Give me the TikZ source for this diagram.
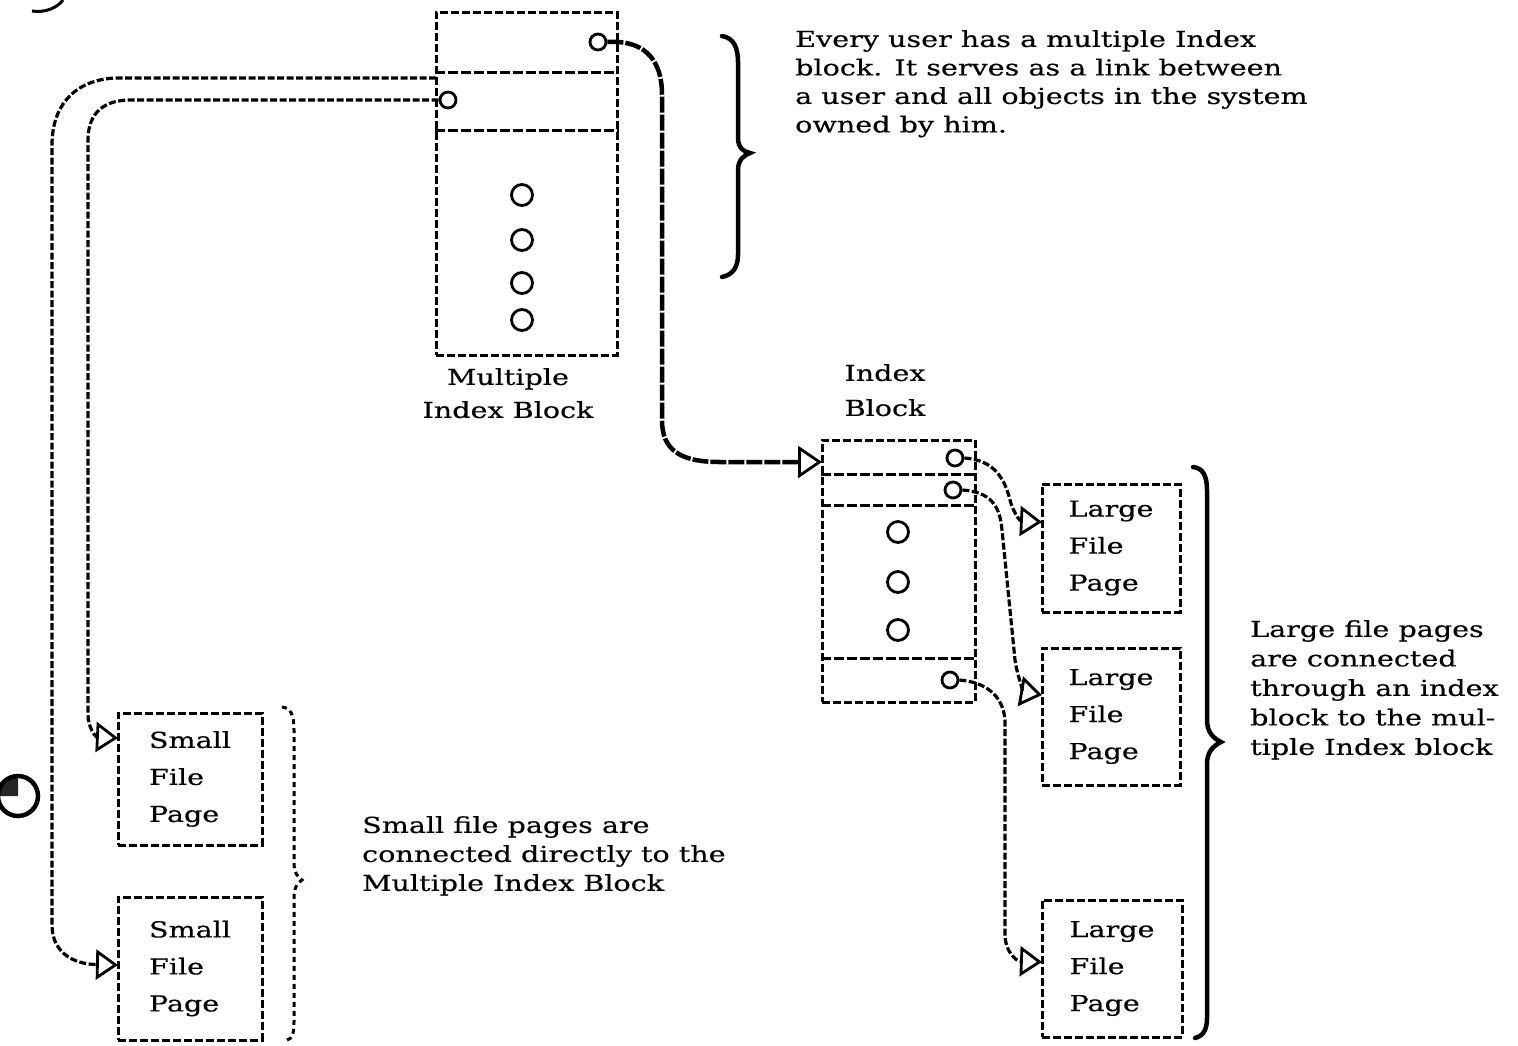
\documentclass[tikz,border=0pt]{standalone}
\usepackage{fontspec}
\setmainfont{DejaVu Serif}[FakeStretch=1.3,FakeBold=0.4]
\usetikzlibrary{arrows.meta}
\begin{document}
\begin{tikzpicture}[x=1pt,y=-1pt,
  blk/.style={draw, line width=3pt, dash pattern=on 8pt off 3pt, inner sep=0pt},
  divl/.style={line width=3pt, dash pattern=on 10pt off 3pt},
  pg/.style={blk, align=left, font=\fontsize{22}{37}\selectfont},
  ptr/.style={circle, draw, line width=2.8pt, minimum size=16pt, inner sep=0pt},
  conn/.style={line width=4.5pt, dash pattern=on 16pt off 2pt,
     -{Triangle[open,length=24pt,width=32pt,line width=2.8pt]}},
  conn2/.style={line width=3.2pt, dash pattern=on 7pt off 2.5pt,
     -{Triangle[open,length=22pt,width=30pt,line width=2.8pt]}},
  txt/.style={font=\fontsize{22}{28.5}\selectfont, align=left, inner sep=0pt, anchor=north west},
  lbl/.style={font=\fontsize{22}{33}\selectfont, align=center, inner sep=0pt, anchor=north},
  brc/.style={line width=4.5pt, line cap=round},
]
\useasboundingbox (0,0) rectangle (1518,1045);

% Multiple index block
\node[blk, minimum width=181pt, minimum height=343pt] (mib) at (526.5,183.5) {};
\draw[divl] (mib.west |- 0,72) -- (mib.east |- 0,72);
\draw[divl] (mib.west |- 0,130) -- (mib.east |- 0,130);
\node[ptr] (m1) at (598,42) {};
\node[ptr] (m2) at (448,100) {};
\node[ptr, minimum size=21pt] (m3) at (522,195) {};
\node[ptr, minimum size=21pt] (m4) at (522,240) {};
\node[ptr, minimum size=21pt] (m5) at (522,283) {};
\node[ptr, minimum size=21pt] (m6) at (522,320) {};
\node[lbl] (mibl) at (508,368) {Multiple\\Index Block};

% brace for multiple index block
\draw[brc] (722,36) .. controls (734,38) and (738,48) .. (738,62) -- (738,138)
  .. controls (738,148) and (744,152) .. (750,153) .. controls (744,155) and (738,160) .. (738,170)
  -- (738,255) .. controls (738,268) and (732,275) .. (722,277);
\node[txt] (t1) at (795,30) {Every user has a multiple Index\\block.  It serves as a link between\\a user and all objects in the system\\owned by him.};

% Index block
\node[blk, minimum width=153pt, minimum height=262pt] (ib) at (898.5,571) {};
\draw[divl] (ib.west |- 0,474) -- (ib.east |- 0,474);
\draw[divl] (ib.west |- 0,505) -- (ib.east |- 0,505);
\draw[divl] (ib.west |- 0,658) -- (ib.east |- 0,658);
\node[ptr] (i1) at (955,458) {};
\node[ptr] (i2) at (953,490) {};
\node[ptr, minimum size=21pt] (i3) at (898,532) {};
\node[ptr, minimum size=21pt] (i5) at (898,582) {};
\node[ptr, minimum size=21pt] (i6) at (898,630) {};
\node[ptr] (i4) at (950,680) {};
\node[lbl, font=\fontsize{22}{35}\selectfont] (ibl) at (885,364) {Index\\Block};

% Large file pages
\node[pg, minimum width=138pt, minimum height=128pt] (l1) at (1111,548) {Large\\File\\Page};
\node[pg, minimum width=138pt, minimum height=137pt] (l2) at (1111,716.5) {Large\\File\\Page};
\node[pg, minimum width=140pt, minimum height=137pt] (l3) at (1112,968.5) {Large\\File\\Page};
\draw[brc] (1193,467) .. controls (1203,468) and (1207,476) .. (1207,490) -- (1207,720)
  .. controls (1207,732) and (1213,738) .. (1221,742) .. controls (1213,746) and (1207,752) .. (1207,764)
  -- (1207,1018) .. controls (1207,1030) and (1203,1036) .. (1195,1038);
\node[txt, font=\fontsize{22}{29.5}\selectfont] (t3) at (1250,620) {Large file pages\\are connected\\through an index\\block to the mul-\\tiple Index block};

% Small file pages
\node[pg, minimum width=144pt, minimum height=132pt] (s1) at (190,779) {Small\\File\\Page};
\node[pg, minimum width=144pt, minimum height=143pt] (s2) at (190,968.5) {Small\\File\\Page};
\draw[line width=3pt, dash pattern=on 5pt off 4pt] (282,707) .. controls (291,708) and (294,715) .. (294,730)
  -- (294,862) .. controls (294,872) and (297,877) .. (302,880) .. controls (297,883) and (294,888) .. (294,898)
  -- (294,1022) .. controls (294,1034) and (292,1039) .. (287,1040);
\node[txt, font=\fontsize{22}{29}\selectfont] (t2) at (362,816) {Small file pages are\\connected directly to the\\Multiple Index Block};

% connector end points
\coordinate (ibin) at (822,462);
\coordinate (l1in) at (1042,522);
\coordinate (l2in) at (1042,695);
\coordinate (l3in) at (1042,962);
\coordinate (s1in) at (118,738);
\coordinate (s2in) at (118,965);
\coordinate (mibout) at (436,78);

% connectors
\draw[conn] (m1.east) .. controls (640,40) and (662,55) .. (662,95) -- (662,420)
  .. controls (662,450) and (680,462) .. (720,462) -- (ibin);
\draw[conn2] (i1.east) .. controls (995,460) and (1005,480) .. (1010,500)
  .. controls (1013,512) and (1020,521) .. (l1in);
\draw[conn2] (i2.east) .. controls (990,492) and (1000,505) .. (1002,530) -- (1015,660)
  .. controls (1018,680) and (1025,692) .. (l2in);
\draw[conn2] (i4.east) .. controls (985,682) and (1003,695) .. (1005,720) -- (1005,935)
  .. controls (1005,950) and (1015,961) .. (l3in);
\draw[conn2] (m2.west) -- (130,100) .. controls (105,100) and (88,112) .. (88,140) -- (88,715)
  .. controls (88,728) and (96,737) .. (s1in);
\draw[conn2] (mibout) -- (115,78) .. controls (75,80) and (52,105) .. (52,145) -- (52,925)
  .. controls (52,950) and (70,964) .. (s2in);

% punched holes
\fill[black!85] (18,796) -- ++(-20,0) arc (180:270:20) -- cycle;
\draw[line width=4.5pt] (18,796) circle (20);
\draw[line width=3pt] (32,11) .. controls (45,13) and (57,8) .. (63,0);
\end{tikzpicture}
\end{document}
